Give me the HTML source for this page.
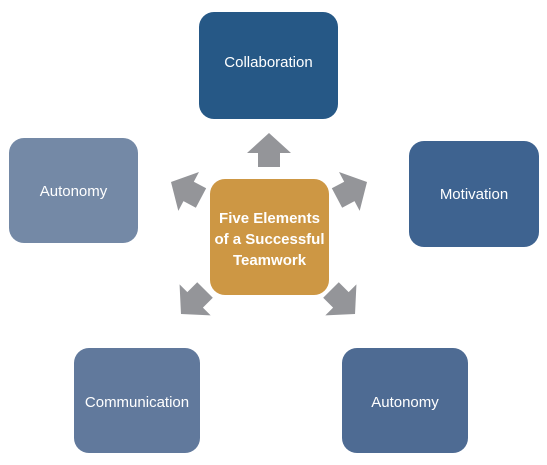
<!DOCTYPE html>
<html><head><meta charset="utf-8"><style>
html,body{margin:0;padding:0;background:#fff;width:547px;height:465px;overflow:hidden}
.b{position:absolute;border-radius:15px;color:#fff;font-family:"Liberation Sans",sans-serif;font-size:15px;text-align:center}
.b span{position:absolute;left:0;right:0}
</style></head><body>
<div class="b" style="left:199px;top:12px;width:139px;height:107px;background:#265886"><span style="top:42px">Collaboration</span></div>
<div class="b" style="left:9px;top:138px;width:129px;height:105px;background:#7489a6"><span style="top:45px">Autonomy</span></div>
<div class="b" style="left:409px;top:141px;width:130px;height:106px;background:#3e6390"><span style="top:45px">Motivation</span></div>
<div class="b" style="left:74px;top:348px;width:126px;height:105px;background:#61799c"><span style="top:46px">Communication</span></div>
<div class="b" style="left:342px;top:348px;width:126px;height:105px;background:#4e6b93"><span style="top:46px">Autonomy</span></div>
<div class="b" style="left:210px;top:179px;width:119px;height:116px;background:#cd9744;font-weight:bold;font-size:15px;line-height:21px"><span style="top:29px">Five Elements<br>of a Successful<br>Teamwork</span></div>
<svg width="547" height="465" style="position:absolute;left:0;top:0">
<defs><polygon id="a" points="0,-17 22,3 11,3 11,17 -11,17 -11,3 -22,3" fill="#949599"/></defs>
<use href="#a" transform="translate(269,150)"/>
<use href="#a" transform="translate(186,190) rotate(-62)"/>
<use href="#a" transform="translate(352,190) rotate(62)"/>
<use href="#a" transform="translate(193,302) rotate(-135)"/>
<use href="#a" transform="translate(343,302) rotate(135)"/>
</svg>
</body></html>
